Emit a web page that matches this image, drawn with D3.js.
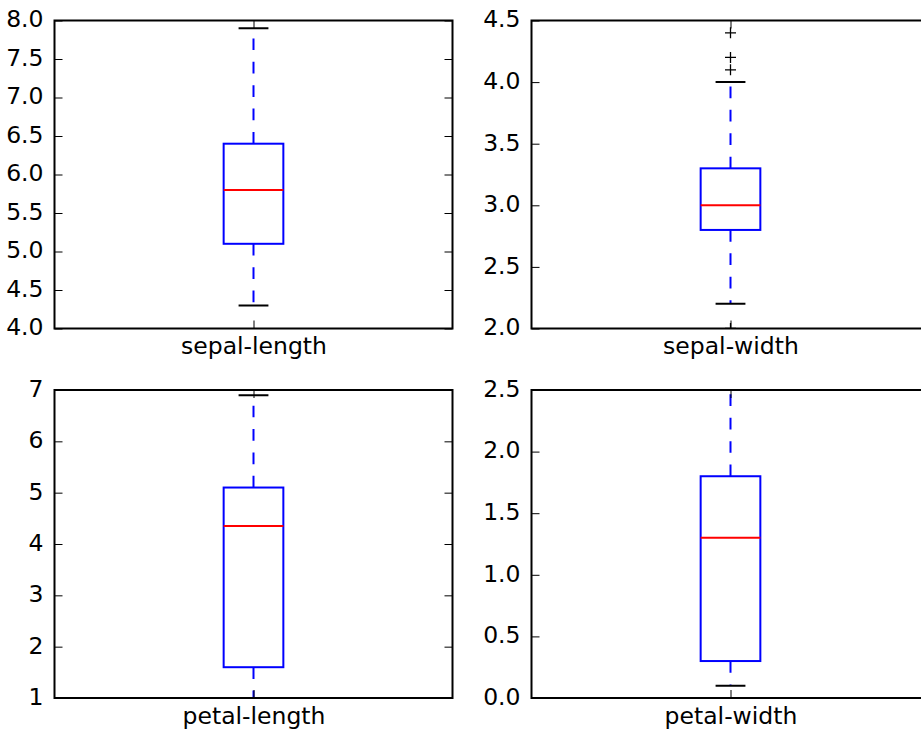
<!DOCTYPE html>
<html>
<head>
<meta charset="utf-8">
<script src="https://cdn.jsdelivr.net/npm/d3@7"></script>
<style>
  body { margin: 0; background: #fff; }
  svg { display: block; }
  text { font-family: "DejaVu Sans", sans-serif; fill: #000; }
</style>
</head>
<body>
<div id="chart"></div>
<script>
// box plot stats per feature
const features = ["sepal-length", "sepal-width", "petal-length", "petal-width"];
const whiskerLow = [4.3, 2.2, 1.0, 0.1];
const q1 = [5.1, 2.8, 1.6, 0.3];
const median = [5.8, 3.0, 4.35, 1.3];
const q3 = [6.4, 3.3, 5.1, 1.8];
const whiskerHigh = [7.9, 4.0, 6.9, 2.5];
const outliers = [[], [4.4, 4.2, 4.1, 2.0], [], []];

// y axes
const yDomains = [[4, 8], [2, 4.5], [1, 7], [0, 2.5]];
const yTicks = [
  [4.0, 4.5, 5.0, 5.5, 6.0, 6.5, 7.0, 7.5, 8.0],
  [2.0, 2.5, 3.0, 3.5, 4.0, 4.5],
  [1, 2, 3, 4, 5, 6, 7],
  [0.0, 0.5, 1.0, 1.5, 2.0, 2.5]
];
const yFormats = [".1f", ".1f", "d", ".1f"];

const width = 921;
const height = 731;
const colLeft = [54.5, 531.5];
const rowTop = [20.5, 390];
const panelW = 398;
const panelH = 308;
const fontSize = 23.5;
const tickLen = 8;

const svg = d3.select("#chart")
  .append("svg")
  .attr("width", width)
  .attr("height", height);

features.forEach((name, i) => {
  const x0 = colLeft[i % 2];
  const y0 = rowTop[Math.floor(i / 2)];

  const x = d3.scaleLinear().domain([0.5, 1.5]).range([0, panelW]);
  const y = d3.scaleLinear().domain(yDomains[i]).range([panelH, 0]);

  const g = svg.append("g").attr("transform", `translate(${x0},${y0})`);

  g.append("clipPath")
    .attr("id", "clip" + i)
    .append("rect")
    .attr("width", panelW)
    .attr("height", panelH);

  const marks = g.append("g").attr("clip-path", `url(#clip${i})`);

  const boxW = 0.15;
  const capW = 0.075;

  // whiskers, drawn from the box outward
  marks.append("line")
    .attr("x1", x(1)).attr("x2", x(1))
    .attr("y1", y(q3[i])).attr("y2", y(whiskerHigh[i]))
    .attr("stroke", "#0000ff").attr("stroke-width", 2)
    .attr("stroke-dasharray", "11.7 11.7");
  marks.append("line")
    .attr("x1", x(1)).attr("x2", x(1))
    .attr("y1", y(q1[i])).attr("y2", y(whiskerLow[i]))
    .attr("stroke", "#0000ff").attr("stroke-width", 2)
    .attr("stroke-dasharray", "11.7 11.7");

  // caps
  [whiskerLow[i], whiskerHigh[i]].forEach((v) => {
    marks.append("line")
      .attr("x1", x(1 - capW / 2)).attr("x2", x(1 + capW / 2))
      .attr("y1", y(v)).attr("y2", y(v))
      .attr("stroke", "#000").attr("stroke-width", 2);
  });

  // box
  marks.append("rect")
    .attr("x", x(1 - boxW / 2))
    .attr("width", x(1 + boxW / 2) - x(1 - boxW / 2))
    .attr("y", y(q3[i]))
    .attr("height", y(q1[i]) - y(q3[i]))
    .attr("fill", "none")
    .attr("stroke", "#0000ff").attr("stroke-width", 2);

  // median
  marks.append("line")
    .attr("x1", x(1 - boxW / 2)).attr("x2", x(1 + boxW / 2))
    .attr("y1", y(median[i])).attr("y2", y(median[i]))
    .attr("stroke", "#ff0000").attr("stroke-width", 2);

  // fliers as '+'
  const s = 5.5;
  marks.selectAll("path.flier")
    .data(outliers[i])
    .join("path")
    .attr("class", "flier")
    .attr("d", (d) => `M${x(1) - s},${y(d)}H${x(1) + s}M${x(1)},${y(d) - s}V${y(d) + s}`)
    .attr("stroke", "#000").attr("stroke-width", 1.3).attr("fill", "none");

  // axes, ticks pointing inward
  const fmt = d3.format(yFormats[i]);
  const left = g.append("g")
    .call(d3.axisLeft(y).tickValues(yTicks[i]).tickFormat(fmt)
      .tickSize(-tickLen).tickPadding(11));
  const right = g.append("g")
    .attr("transform", `translate(${panelW},0)`)
    .call(d3.axisRight(y).tickValues(yTicks[i]).tickFormat("")
      .tickSize(-tickLen));
  const bottom = g.append("g")
    .attr("transform", `translate(0,${panelH})`)
    .call(d3.axisBottom(x).tickValues([1]).tickFormat(() => name)
      .tickSize(-tickLen).tickPadding(9));
  const top = g.append("g")
    .call(d3.axisTop(x).tickValues([1]).tickFormat("")
      .tickSize(-tickLen));

  [left, right, bottom, top].forEach((ax) => {
    ax.select(".domain").remove();
    ax.selectAll(".tick line").attr("stroke", "#000").attr("stroke-width", 1);
    ax.selectAll("text")
      .style("font-family", '"DejaVu Sans", sans-serif')
      .style("font-size", fontSize + "px")
      .attr("fill", "#000");
  });
  left.selectAll("text").attr("dy", "0.27em");

  // frame
  g.append("rect")
    .attr("width", panelW)
    .attr("height", panelH)
    .attr("fill", "none")
    .attr("stroke", "#000")
    .attr("stroke-width", 2);
});
</script>
</body>
</html>
